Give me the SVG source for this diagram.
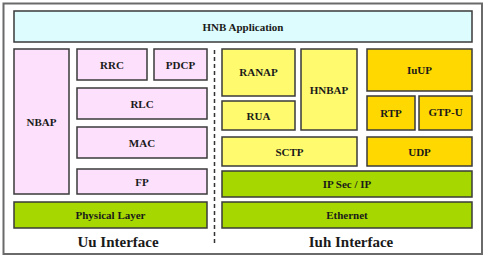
<svg xmlns="http://www.w3.org/2000/svg" width="486" height="258" viewBox="0 0 486 258">
<style>
.b{stroke:#3a3a3a;stroke-width:1.5}
.cy{fill:#dcfcfd}
.pk{fill:#fde0fc}
.yl{fill:#fffa6e}
.gd{fill:#ffd800}
.gr{fill:#a6d800}
text{font-family:"Liberation Serif","Times New Roman",serif;font-weight:bold;fill:#1a1a1a;text-anchor:middle;dominant-baseline:central}
.s{font-size:11px}
.l{font-size:15px}
</style>
<rect x="0" y="0" width="486" height="258" fill="#ffffff"/>
<rect id="frame" x="3.5" y="3.5" width="478.5" height="250.5" fill="#ffffff" stroke="#6a6a6a" stroke-width="2"/>
<g id="hnb-app"><rect class="b cy" x="14" y="11" width="458" height="31"/><text class="s" x="243" y="26.5">HNB Application</text></g>
<g id="nbap"><rect class="b pk" x="14" y="49" width="55" height="145"/><text class="s" x="41.5" y="122">NBAP</text></g>
<g id="rrc"><rect class="b pk" x="77" y="49" width="70" height="31"/><text class="s" x="112" y="65">RRC</text></g>
<g id="pdcp"><rect class="b pk" x="154" y="49" width="53" height="31"/><text class="s" x="180.5" y="65">PDCP</text></g>
<g id="rlc"><rect class="b pk" x="77" y="88" width="130" height="31"/><text class="s" x="142" y="104">RLC</text></g>
<g id="mac"><rect class="b pk" x="77" y="127" width="130" height="31"/><text class="s" x="142" y="142.5">MAC</text></g>
<g id="fp"><rect class="b pk" x="77" y="169" width="130" height="25"/><text class="s" x="142" y="181.5">FP</text></g>
<g id="phy"><rect class="b gr" x="14" y="202" width="193" height="26"/><text class="s" x="110.5" y="215">Physical Layer</text></g>
<g id="ranap"><rect class="b yl" x="222" y="49" width="73" height="47"/><text class="s" x="258.5" y="72">RANAP</text></g>
<g id="rua"><rect class="b yl" x="222" y="101" width="73" height="29"/><text class="s" x="258.5" y="116">RUA</text></g>
<g id="hnbap"><rect class="b yl" x="301" y="49" width="56" height="81"/><text class="s" x="329" y="89.5">HNBAP</text></g>
<g id="iuup"><rect class="b gd" x="367" y="49" width="105" height="42"/><text class="s" x="419.5" y="70">IuUP</text></g>
<g id="rtp"><rect class="b gd" x="367" y="96" width="48" height="34"/><text class="s" x="391" y="113">RTP</text></g>
<g id="gtpu"><rect class="b gd" x="419" y="96" width="53" height="34"/><text class="s" x="445.5" y="112">GTP-U</text></g>
<g id="sctp"><rect class="b yl" x="222" y="137" width="135" height="29"/><text class="s" x="289.5" y="151.5">SCTP</text></g>
<g id="udp"><rect class="b gd" x="367" y="137" width="105" height="29"/><text class="s" x="419.5" y="151.5">UDP</text></g>
<g id="ipsec"><rect class="b gr" x="222" y="171" width="250" height="26"/><text class="s" x="347" y="184">IP Sec / IP</text></g>
<g id="ethernet"><rect class="b gr" x="222" y="202" width="250" height="26"/><text class="s" x="347" y="215">Ethernet</text></g>
<g id="connectors"><line x1="214.5" y1="50" x2="214.5" y2="245" stroke="#333" stroke-width="1.5" stroke-dasharray="4,3"/></g>
<text class="l" x="118" y="242">Uu Interface</text>
<text class="l" x="351" y="242">Iuh Interface</text>
</svg>
